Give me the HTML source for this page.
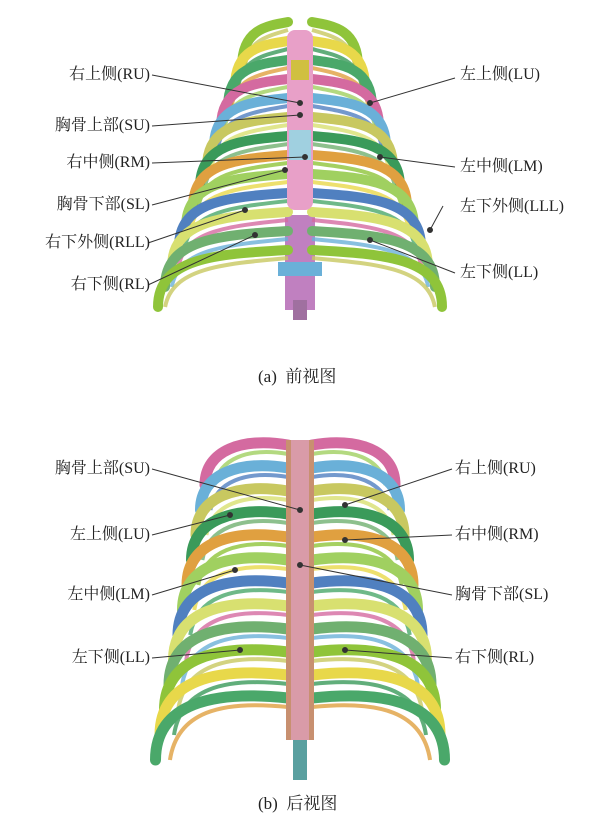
<!DOCTYPE html>
<html><head><meta charset="utf-8"><style>
html,body{margin:0;padding:0;background:#fff;}
body{width:609px;height:828px;position:relative;overflow:hidden;font-family:"Liberation Serif","Noto Serif CJK SC","Noto Sans CJK SC",serif;}
.t{position:absolute;font-size:16px;color:#222;white-space:nowrap;line-height:18px;}
.r{text-align:right;}
svg{position:absolute;left:0;top:0;}
</style></head><body>
<svg id="s" width="609" height="828" viewBox="0 0 609 828">
<g id="front"></g><g id="back"></g><g id="lines" stroke="#333" stroke-width="1" fill="#333"></g>
</svg>
<div class="t r" style="right:459px;top:66px">右上侧(RU)</div>
<div class="t r" style="right:459px;top:117px">胸骨上部(SU)</div>
<div class="t r" style="right:459px;top:154px">右中侧(RM)</div>
<div class="t r" style="right:459px;top:196px">胸骨下部(SL)</div>
<div class="t r" style="right:459px;top:234px">右下外侧(RLL)</div>
<div class="t r" style="right:459px;top:276px">右下侧(RL)</div>
<div class="t" style="left:460px;top:66px">左上侧(LU)</div>
<div class="t" style="left:460px;top:158px">左中侧(LM)</div>
<div class="t" style="left:460px;top:198px">左下外侧(LLL)</div>
<div class="t" style="left:460px;top:264px">左下侧(LL)</div>
<div class="t" style="left:258px;top:368px;font-size:17px">(a)&nbsp; 前视图</div>
<div class="t r" style="right:459px;top:460px">胸骨上部(SU)</div>
<div class="t r" style="right:459px;top:526px">左上侧(LU)</div>
<div class="t r" style="right:459px;top:586px">左中侧(LM)</div>
<div class="t r" style="right:459px;top:649px">左下侧(LL)</div>
<div class="t" style="left:455px;top:460px">右上侧(RU)</div>
<div class="t" style="left:455px;top:526px">右中侧(RM)</div>
<div class="t" style="left:455px;top:586px">胸骨下部(SL)</div>
<div class="t" style="left:455px;top:649px">右下侧(RL)</div>
<div class="t" style="left:258px;top:795px;font-size:17px">(b)&nbsp; 后视图</div>
<script>
var NS="http://www.w3.org/2000/svg";
function el(p,t,a){var e=document.createElementNS(NS,t);for(var k in a)e.setAttribute(k,a[k]);p.appendChild(e);return e;}
var cols=["#8fc43a","#e8d84a","#4aa86a","#d46aa0","#6ab0d8","#c8c860","#3a9a5a","#e0a040","#a0d060","#5080c0","#d8e070","#70b070"];
var F=document.getElementById("front"),B=document.getElementById("back"),L=document.getElementById("lines");
// front
el(F,"rect",{x:285,y:215,width:30,height:95,fill:"#c080c0"});
el(F,"rect",{x:278,y:262,width:44,height:14,fill:"#6ab0d8"});
el(F,"rect",{x:293,y:300,width:14,height:20,fill:"#a070a0"});
for(var i=0;i<13;i++){var s=22+i*19,w=58+i*7,c=cols[i%12];
 for(var d=-1;d<=1;d+=2){
  el(F,"path",{d:"M"+(300+d*12)+","+s+" C"+(300+d*w*0.6)+","+(s+4)+" "+(300+d*w)+","+(s+8)+" "+(300+d*w)+","+(s+45+i),fill:"none",stroke:c,"stroke-width":10,"stroke-linecap":"round"});
  el(F,"path",{d:"M"+(300+d*12)+","+(s+8)+" C"+(300+d*w*0.55)+","+(s+14)+" "+(300+d*w*0.9)+","+(s+18)+" "+(300+d*w*0.95)+","+(s+45+i),fill:"none",stroke:cols[(i+5)%12],"stroke-width":4,opacity:0.8});
 }}
el(F,"rect",{x:287,y:30,width:26,height:180,rx:8,fill:"#e8a0c8"});
el(F,"rect",{x:291,y:60,width:18,height:20,fill:"#d0c040"});
el(F,"rect",{x:289,y:130,width:22,height:30,fill:"#a0d0e0"});
// back
for(var i=0;i<12;i++){var s=445+i*23,w=95+i*4.5,c=cols[(i+3)%12];
 for(var d=-1;d<=1;d+=2){
  el(B,"path",{d:"M"+(300+d*12)+","+s+" C"+(300+d*w*0.6)+","+(s-8)+" "+(300+d*w)+","+(s+5)+" "+(300+d*w)+","+(s+40+i*2),fill:"none",stroke:c,"stroke-width":11,"stroke-linecap":"round"});
  el(B,"path",{d:"M"+(300+d*12)+","+(s+9)+" C"+(300+d*w*0.55)+","+(s+2)+" "+(300+d*w*0.85)+","+(s+14)+" "+(300+d*w*0.9)+","+(s+40+i*2),fill:"none",stroke:cols[(i+8)%12],"stroke-width":4,opacity:0.8});
 }}
el(B,"rect",{x:286,y:440,width:28,height:300,fill:"#c89070"});
el(B,"rect",{x:291,y:440,width:18,height:300,fill:"#e0a0c0",opacity:0.7});
el(B,"rect",{x:293,y:740,width:14,height:40,fill:"#5aa0a0"});
var ln=[[152,75,300,103],[152,126,300,115],[152,163,305,157],[152,205,285,170],[148,243,245,210],[148,285,255,235],
[455,78,370,103],[455,167,380,157],[443,206,430,230],[455,273,370,240],
[152,469,300,510],[152,535,230,515],[152,595,235,570],[152,658,240,650],
[452,469,345,505],[452,535,345,540],[452,595,300,565],[452,658,345,650]];
ln.forEach(function(a){el(L,"line",{x1:a[0],y1:a[1],x2:a[2],y2:a[3]});el(L,"circle",{cx:a[2],cy:a[3],r:2.5});});
</script>
</body></html>
